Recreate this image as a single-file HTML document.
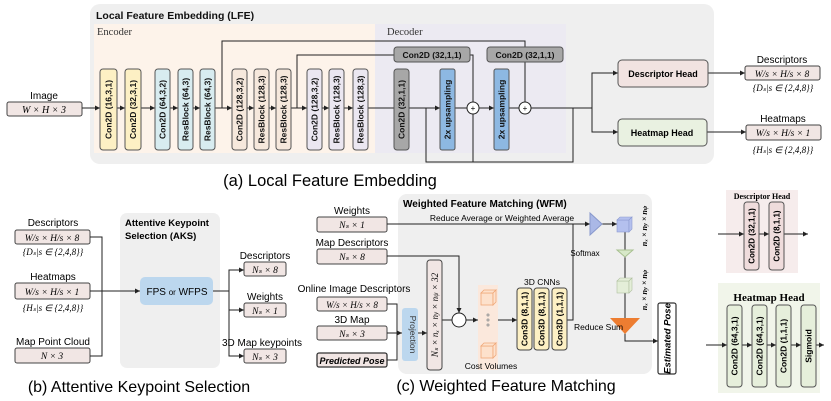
<!DOCTYPE html>
<html><head><meta charset="utf-8"><style>
html,body{margin:0;padding:0;background:#fff;}
svg{display:block;}
.s{font-family:"Liberation Sans",sans-serif;}
.m{font-family:"Liberation Serif",serif;font-style:italic;}
.b{font-weight:bold;}
</style></head><body>
<svg width="831" height="401" viewBox="0 0 831 401" xmlns="http://www.w3.org/2000/svg">
<defs>
<marker id="a" markerWidth="6" markerHeight="6" refX="5" refY="3" orient="auto"><path d="M0,0.5 L5,3 L0,5.5z" fill="#222"/></marker>
</defs>
<g stroke-linecap="butt">
<rect x="90" y="4" width="624" height="160" rx="10" fill="#efefef"/>
<rect x="94" y="24" width="281" height="129" fill="#fdf3ea"/>
<rect x="375" y="24" width="191" height="129" fill="#eceaf2"/>
<text x="96" y="19" class="s b" font-size="10.5" fill="#111">Local Feature Embedding (LFE)</text>
<text x="97" y="35" font-family="Liberation Serif,serif" font-size="10.5" fill="#333">Encoder</text>
<text x="387" y="35" font-family="Liberation Serif,serif" font-size="10.5" fill="#333">Decoder</text>

<text x="44" y="99" text-anchor="middle" class="s" font-size="10">Image</text>
<rect x="7" y="102" width="75" height="14" rx="2" fill="#f1e6e4" stroke="#444"/>
<text x="44" y="113" text-anchor="middle" class="m" font-size="10">W × H × 3</text>

<g stroke="#222" stroke-width="1" fill="none">
<line x1="82" y1="108" x2="100" y2="108" marker-end="url(#a)"/>
<line x1="117" y1="108" x2="125" y2="108" marker-end="url(#a)"/>
<line x1="141" y1="108" x2="155" y2="108" marker-end="url(#a)"/>
<line x1="170" y1="108" x2="178" y2="108" marker-end="url(#a)"/>
<line x1="193" y1="108" x2="200" y2="108" marker-end="url(#a)"/>
<line x1="215" y1="108" x2="232" y2="108" marker-end="url(#a)"/>
<line x1="247" y1="108" x2="254" y2="108" marker-end="url(#a)"/>
<line x1="269" y1="108" x2="276" y2="108" marker-end="url(#a)"/>
<line x1="291" y1="108" x2="307" y2="108" marker-end="url(#a)"/>
<line x1="322" y1="108" x2="329" y2="108" marker-end="url(#a)"/>
<line x1="344" y1="108" x2="353" y2="108" marker-end="url(#a)"/>
<line x1="368" y1="108" x2="394" y2="108"/>
<line x1="409" y1="108" x2="440" y2="108" marker-end="url(#a)"/>
<line x1="455" y1="108" x2="467" y2="108"/>
<line x1="479" y1="108" x2="494" y2="108" marker-end="url(#a)"/>
<line x1="509" y1="108" x2="519" y2="108"/>
<line x1="531" y1="108" x2="592" y2="108"/>
<polyline points="222,108 222,41 525,41 525,102"/>
<polyline points="297,108 297,55 394,55"/>
<polyline points="470,55 473,55 473,102"/>
<polyline points="426,108 426,162 573,162 573,108"/>
<line x1="473" y1="114" x2="473" y2="162"/>
<polyline points="592,108 592,73 618,73" marker-end="url(#a)"/>
<polyline points="592,108 592,132 618,132" marker-end="url(#a)"/>
<line x1="708" y1="73" x2="745" y2="73" marker-end="url(#a)"/>
<line x1="707" y1="132" x2="746" y2="132" marker-end="url(#a)"/>
</g>
<circle cx="473" cy="108" r="6" fill="#fff" stroke="#222"/><text x="473" y="111" text-anchor="middle" font-size="8" class="s">+</text>
<circle cx="525" cy="108" r="6" fill="#fff" stroke="#222"/><text x="525" y="111" text-anchor="middle" font-size="8" class="s">+</text>

<g class="s b" font-size="8.5" stroke-width="1">
<g stroke="#555">
<rect x="100" y="69" width="17" height="81" rx="3" fill="#fdf0c4"/>
<rect x="125" y="69" width="16" height="81" rx="3" fill="#fdf0c4"/>
<rect x="155" y="69" width="15" height="81" rx="3" fill="#d8ecf0"/>
<rect x="178" y="69" width="15" height="81" rx="3" fill="#d8ecf0"/>
<rect x="200" y="69" width="15" height="81" rx="3" fill="#d8ecf0"/>
<rect x="232" y="69" width="15" height="81" rx="3" fill="#f6e8dc"/>
<rect x="254" y="69" width="15" height="81" rx="3" fill="#f6e8dc"/>
<rect x="276" y="69" width="15" height="81" rx="3" fill="#f6e8dc"/>
<rect x="307" y="69" width="15" height="81" rx="3" fill="#ebe7f1"/>
<rect x="329" y="69" width="15" height="81" rx="3" fill="#ebe7f1"/>
<rect x="353" y="69" width="15" height="81" rx="3" fill="#ebe7f1"/>
<rect x="394" y="69" width="15" height="81" rx="3" fill="#a7a7a7"/>
<rect x="440" y="69" width="15" height="81" rx="2" fill="#8db8e2"/>
<rect x="494" y="69" width="15" height="81" rx="2" fill="#8db8e2"/>
<rect x="394" y="47" width="76" height="15" rx="3" fill="#a7a7a7"/>
<rect x="487" y="47" width="76" height="15" rx="3" fill="#a7a7a7"/>
</g>
<g fill="#111" text-anchor="middle">
<text transform="translate(111.5,109.5) rotate(-90)">Con2D (16,3,1)</text>
<text transform="translate(136,109.5) rotate(-90)">Con2D (32,3,1)</text>
<text transform="translate(165.5,109.5) rotate(-90)">Con2D (64,3,2)</text>
<text transform="translate(188.5,109.5) rotate(-90)">ResBlock (64,3)</text>
<text transform="translate(210.5,109.5) rotate(-90)">ResBlock (64,3)</text>
<text transform="translate(242.5,109.5) rotate(-90)">Con2D (128,3,2)</text>
<text transform="translate(264.5,109.5) rotate(-90)">ResBlock (128,3)</text>
<text transform="translate(286.5,109.5) rotate(-90)">ResBlock (128,3)</text>
<text transform="translate(317.5,109.5) rotate(-90)">Con2D (128,3,2)</text>
<text transform="translate(339.5,109.5) rotate(-90)">ResBlock (128,3)</text>
<text transform="translate(363.5,109.5) rotate(-90)">ResBlock (128,3)</text>
<text transform="translate(404.5,109.5) rotate(-90)">Con2D (32,1,1)</text>
<text transform="translate(450.5,109.5) rotate(-90)">2x upsampling</text>
<text transform="translate(504.5,109.5) rotate(-90)">2x upsampling</text>
<text x="432" y="58">Con2D (32,1,1)</text>
<text x="525" y="58">Con2D (32,1,1)</text>
</g>
</g>
<rect x="618" y="60" width="90" height="27" rx="4" fill="#f1e3e1" stroke="#555"/>
<text x="663" y="77" text-anchor="middle" class="s b" font-size="9">Descriptor Head</text>
<rect x="618" y="119" width="89" height="27" rx="4" fill="#e9f1e1" stroke="#555"/>
<text x="662" y="136" text-anchor="middle" class="s b" font-size="9">Heatmap Head</text>
<text x="782" y="63" text-anchor="middle" class="s" font-size="10">Descriptors</text>
<rect x="745" y="66" width="75" height="14" rx="2" fill="#f1e6e4" stroke="#444"/>
<text x="782" y="77" text-anchor="middle" class="m" font-size="9.5">W/s × H/s × 8</text>
<text x="783" y="91" text-anchor="middle" class="m" font-size="9">{Dₛ|s ∈ {2,4,8}}</text>
<text x="783" y="122" text-anchor="middle" class="s" font-size="10">Heatmaps</text>
<rect x="746" y="125" width="75" height="15" rx="2" fill="#f1e6e4" stroke="#444"/>
<text x="783" y="136" text-anchor="middle" class="m" font-size="9.5">W/s × H/s × 1</text>
<text x="783" y="153" text-anchor="middle" class="m" font-size="9">{Hₛ|s ∈ {2,4,8}}</text>
<text x="330" y="186" text-anchor="middle" class="s" font-size="16.5">(a) Local Feature Embedding</text>

<rect x="120" y="213" width="100" height="155" rx="7" fill="#efefef"/>
<text x="125" y="226" class="s b" font-size="9.5">Attentive Keypoint</text>
<text x="125" y="239" class="s b" font-size="9.5">Selection (AKS)</text>
<text x="53" y="226" text-anchor="middle" class="s" font-size="10">Descriptors</text>
<rect x="15" y="230" width="75" height="14" rx="2" fill="#f1e6e4" stroke="#444"/>
<text x="52" y="241" text-anchor="middle" class="m" font-size="9.5">W/s × H/s × 8</text>
<text x="53" y="255" text-anchor="middle" class="m" font-size="9">{Dₛ|s ∈ {2,4,8}}</text>
<text x="53" y="280" text-anchor="middle" class="s" font-size="10">Heatmaps</text>
<rect x="15" y="283" width="75" height="16" rx="2" fill="#f1e6e4" stroke="#444"/>
<text x="52" y="295" text-anchor="middle" class="m" font-size="9.5">W/s × H/s × 1</text>
<text x="53" y="311" text-anchor="middle" class="m" font-size="9">{Hₛ|s ∈ {2,4,8}}</text>
<text x="53" y="345" text-anchor="middle" class="s" font-size="10">Map Point Cloud</text>
<rect x="15" y="348" width="75" height="15" rx="2" fill="#f1e6e4" stroke="#444"/>
<text x="52" y="359" text-anchor="middle" class="m" font-size="9.5">N × 3</text>
<g stroke="#222" fill="none">
<polyline points="90,237 102,237 102,356 90,356"/>
<line x1="90" y1="291" x2="140" y2="291" marker-end="url(#a)"/>
<line x1="213" y1="291" x2="229" y2="291"/>
<polyline points="244,270 229,270 229,356 244,356"/>
<line x1="229" y1="270" x2="244" y2="270" marker-end="url(#a)"/>
<line x1="229" y1="310" x2="244" y2="310" marker-end="url(#a)"/>
<line x1="229" y1="356" x2="244" y2="356" marker-end="url(#a)"/>
</g>
<rect x="140" y="277" width="73" height="28" rx="5" fill="#bcd7ee"/>
<text x="177" y="295" text-anchor="middle" class="s" font-size="10">FPS <tspan font-size="8">or</tspan> WFPS</text>
<text x="265" y="259" text-anchor="middle" class="s" font-size="10">Descriptors</text>
<rect x="244" y="262" width="42" height="14" rx="2" fill="#f1e6e4" stroke="#444"/>
<text x="265" y="273" text-anchor="middle" class="m" font-size="9.5">Nₛ × 8</text>
<text x="265" y="300" text-anchor="middle" class="s" font-size="10">Weights</text>
<rect x="244" y="303" width="42" height="14" rx="2" fill="#f1e6e4" stroke="#444"/>
<text x="265" y="314" text-anchor="middle" class="m" font-size="9.5">Nₛ × 1</text>
<text x="262" y="346" text-anchor="middle" class="s" font-size="10">3D Map keypoints</text>
<rect x="244" y="349" width="42" height="14" rx="2" fill="#f1e6e4" stroke="#444"/>
<text x="265" y="360" text-anchor="middle" class="m" font-size="9.5">Nₛ × 3</text>
<text x="139" y="392" text-anchor="middle" class="s" font-size="16">(b) Attentive Keypoint Selection</text>

<rect x="398" y="194" width="254" height="180" rx="9" fill="#efefef"/>
<text x="403" y="207" class="s b" font-size="10">Weighted Feature Matching (WFM)</text>
<text x="502" y="221" text-anchor="middle" class="s" font-size="8.5">Reduce Average or Weighted Average</text>
<text x="352" y="214" text-anchor="middle" class="s" font-size="10">Weights</text>
<rect x="317" y="217" width="70" height="15" rx="2" fill="#f1e6e4" stroke="#444"/>
<text x="352" y="228" text-anchor="middle" class="m" font-size="9.5">Nₛ × 1</text>
<text x="352" y="246" text-anchor="middle" class="s" font-size="10">Map Descriptors</text>
<rect x="317" y="249" width="70" height="15" rx="2" fill="#f1e6e4" stroke="#444"/>
<text x="352" y="260" text-anchor="middle" class="m" font-size="9.5">Nₛ × 8</text>
<text x="354" y="292" text-anchor="middle" class="s" font-size="10">Online Image Descriptors</text>
<rect x="317" y="297" width="70" height="14" rx="2" fill="#f1e6e4" stroke="#444"/>
<text x="352" y="308" text-anchor="middle" class="m" font-size="9">W/s × H/s × 8</text>
<text x="352" y="323" text-anchor="middle" class="s" font-size="10">3D Map</text>
<rect x="317" y="326" width="70" height="14" rx="2" fill="#f1e6e4" stroke="#444"/>
<text x="352" y="337" text-anchor="middle" class="m" font-size="9.5">Nₛ × 3</text>
<rect x="317" y="353" width="70" height="14" rx="2" fill="#f1e6e4" stroke="#333" stroke-width="1.3"/>
<text x="352" y="364" text-anchor="middle" class="s b" font-style="italic" font-size="9">Predicted Pose</text>
<g stroke="#222" fill="none">
<line x1="387" y1="224" x2="590" y2="224" marker-end="url(#a)"/>
<polyline points="387,256 459,256 459,313" marker-end="url(#a)"/>
<polyline points="387,304 397,304 397,360 387,360"/>
<line x1="387" y1="333" x2="402" y2="333" marker-end="url(#a)"/>
<line x1="418" y1="333" x2="427" y2="333" marker-end="url(#a)"/>
<line x1="442" y1="320" x2="452" y2="320"/>
<line x1="466" y1="320" x2="478" y2="320" marker-end="url(#a)"/>
<line x1="498" y1="320" x2="517" y2="320" marker-end="url(#a)"/>
<polyline points="567,320 573,320 573,224"/>
<line x1="602" y1="224" x2="617" y2="224" marker-end="url(#a)"/>
<line x1="625" y1="232" x2="625" y2="250"/>
<line x1="625" y1="256" x2="625" y2="278"/>
<line x1="625" y1="293" x2="625" y2="318"/>
<polyline points="625,333 625,341 658,341" marker-end="url(#a)"/>
</g>
<rect x="402" y="308" width="16" height="53" rx="3" fill="#bcd7ee"/>
<text transform="translate(410,334.5) rotate(90)" text-anchor="middle" class="s" font-size="8.5" fill="#333">Projection</text>
<rect x="427" y="260" width="15" height="110" rx="3" fill="#f1e6e4" stroke="#444"/>
<text transform="translate(438,315) rotate(-90)" text-anchor="middle" class="m" font-size="9">Nₛ × nₓ × n<tspan font-size="7">y</tspan> × n<tspan font-size="7">ψ</tspan> × 32</text>
<circle cx="459" cy="320" r="7" fill="#fff" stroke="#222"/>
<rect x="478" y="285" width="20" height="85" fill="#fbe8dc"/>
<g fill="#fde1cc" stroke="#f0a878" stroke-width="0.8">
<rect x="481" y="293" width="12" height="12"/><polygon points="481,293 484,290 496,290 493,293"/><polygon points="493,293 496,290 496,302 493,305"/>
<rect x="481" y="346" width="12" height="12"/><polygon points="481,346 484,343 496,343 493,346"/><polygon points="493,346 496,343 496,355 493,358"/>
</g>
<circle cx="488" cy="315" r="1" fill="none" stroke="#999"/><circle cx="488" cy="320" r="1" fill="none" stroke="#999"/><circle cx="488" cy="325" r="1" fill="none" stroke="#999"/>
<text x="491" y="369" text-anchor="middle" class="s" font-size="8.5">Cost Volumes</text>
<text x="542" y="285" text-anchor="middle" class="s" font-size="8.5">3D CNNs</text>
<g stroke="#444" fill="#fdf0c4"><rect x="517" y="288" width="15" height="62" rx="3"/><rect x="534" y="288" width="15" height="62" rx="3"/><rect x="552" y="288" width="15" height="62" rx="3"/></g>
<g class="s b" font-size="8.5" text-anchor="middle">
<text transform="translate(527.5,319) rotate(-90)">Con3D (8,1,1)</text>
<text transform="translate(544.5,319) rotate(-90)">Con3D (8,1,1)</text>
<text transform="translate(562.5,319) rotate(-90)">Con3D (1,1,1)</text>
</g>
<polygon points="590,213 602,224 590,235" fill="#aab8e6" stroke="#8898cc"/>
<g fill="#b4c0ee" stroke="#8c9ad0" stroke-width="0.6"><rect x="617" y="220" width="12" height="12"/><polygon points="617,220 620,217 632,217 629,220"/><polygon points="629,220 632,217 632,229 629,232"/></g>
<text transform="translate(647,226) rotate(-90)" text-anchor="middle" class="m b" font-size="8">nₓ × n<tspan font-size="6.5">y</tspan> × n<tspan font-size="6.5">ψ</tspan></text>
<polygon points="617,250 633,250 625,257" fill="#d7e8c8" stroke="#a8c090"/>
<text x="585" y="256" text-anchor="middle" class="s" font-size="8">Softmax</text>
<g fill="#e4eed8" stroke="#b0c0a0" stroke-width="0.6"><rect x="617" y="281" width="12" height="12"/><polygon points="617,281 620,278 632,278 629,281"/><polygon points="629,281 632,278 632,290 629,293"/></g>
<text transform="translate(647,290) rotate(-90)" text-anchor="middle" class="m b" font-size="8">nₓ × n<tspan font-size="6.5">y</tspan> × n<tspan font-size="6.5">ψ</tspan></text>
<polygon points="610,318 640,318 625,334" fill="#ed7d31"/>
<text x="574" y="330" class="s" font-size="8.5">Reduce Sum</text>
<rect x="658" y="303" width="18" height="71" rx="2" fill="#fff" stroke="#333" stroke-width="1.2"/>
<text transform="translate(670.5,338.5) rotate(-90)" text-anchor="middle" class="s b" font-style="italic" font-size="9.5">Estimated Pose</text>
<text x="506" y="391" text-anchor="middle" class="s" font-size="16">(c) Weighted Feature Matching</text>

<rect x="726" y="190" width="72" height="83" fill="#f6ecec"/>
<text x="762" y="199" text-anchor="middle" font-family="Liberation Serif,serif" font-weight="bold" font-size="8">Descriptor Head</text>
<g stroke="#222" fill="none">
<line x1="718" y1="234" x2="744" y2="234" marker-end="url(#a)"/>
<line x1="759" y1="234" x2="769" y2="234" marker-end="url(#a)"/>
<line x1="784" y1="234" x2="808" y2="234" marker-end="url(#a)"/>
</g>
<g stroke="#555" fill="#efdcdc"><rect x="744" y="202" width="15" height="68" rx="3"/><rect x="769" y="202" width="15" height="68" rx="3"/></g>
<text transform="translate(754.5,236) rotate(-90)" text-anchor="middle" class="s b" font-size="8">Con2D (32,1,1)</text>
<text transform="translate(779.5,236) rotate(-90)" text-anchor="middle" class="s b" font-size="8">Con2D (8,1,1)</text>
<rect x="718" y="283" width="102" height="110" fill="#f1f5ea"/>
<text x="769" y="301" text-anchor="middle" font-family="Liberation Serif,serif" font-weight="bold" font-size="11">Heatmap Head</text>
<g stroke="#222" fill="none">
<line x1="706" y1="345" x2="727" y2="345" marker-end="url(#a)"/>
<line x1="742" y1="345" x2="752" y2="345" marker-end="url(#a)"/>
<line x1="767" y1="345" x2="776" y2="345" marker-end="url(#a)"/>
<line x1="791" y1="345" x2="801" y2="345" marker-end="url(#a)"/>
<line x1="816" y1="345" x2="824" y2="345" marker-end="url(#a)"/>
</g>
<g stroke="#555" fill="#e6efdb"><rect x="727" y="305" width="15" height="82" rx="3"/><rect x="752" y="305" width="15" height="82" rx="3"/><rect x="776" y="305" width="15" height="82" rx="3"/><rect x="801" y="305" width="15" height="82" rx="3"/></g>
<g class="s b" font-size="8.5" text-anchor="middle">
<text transform="translate(737.5,346) rotate(-90)">Con2D (64,3,1)</text>
<text transform="translate(762.5,346) rotate(-90)">Con2D (64,3,1)</text>
<text transform="translate(786.5,346) rotate(-90)">Con2D (1,1,1)</text>
<text transform="translate(811.5,346) rotate(-90)">Sigmoid</text>
</g>
</g>
</svg>
</body></html>
